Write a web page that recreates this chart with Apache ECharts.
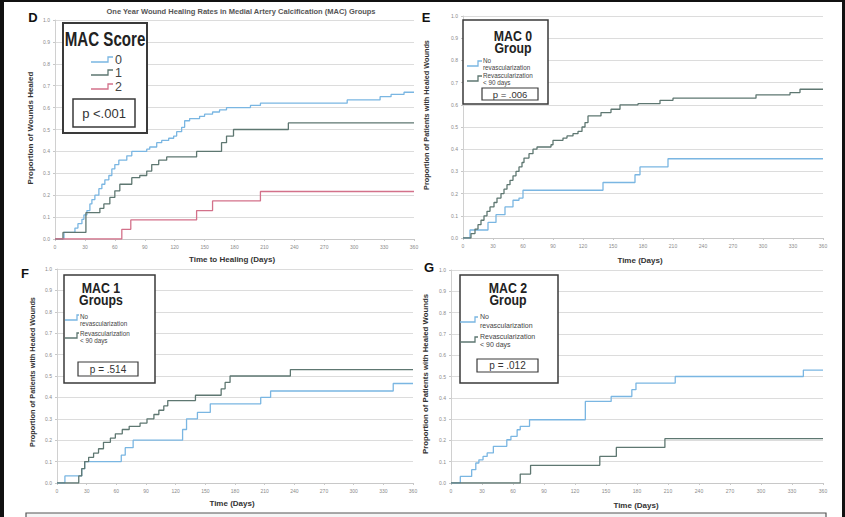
<!DOCTYPE html>
<html><head><meta charset="utf-8">
<script src="https://cdn.jsdelivr.net/npm/echarts@6/dist/echarts.min.js"></script>
<style>html,body{margin:0;padding:0;background:#fff}#c{width:845px;height:517px}</style>
</head><body><div id="c"></div>
<script>
// ---- Data: [day, cumulative proportion healed] step points ----
const dMac0 = [[0,0],[9,0.03],[20,0.05],[23,0.07],[27,0.09],[29,0.11],[32,0.13],[35,0.16],[37,0.18],[40,0.20],[44,0.23],[47,0.25],[50,0.27],[54,0.29],[57,0.32],[60,0.34],[64,0.36],[72,0.38],[77,0.40],[92,0.41],[95,0.42],[102,0.44],[107,0.45],[114,0.46],[119,0.47],[122,0.49],[127,0.51],[130,0.54],[135,0.55],[145,0.56],[150,0.57],[158,0.58],[165,0.59],[172,0.60],[196,0.61],[206,0.62],[293,0.635],[326,0.65],[337,0.66],[350,0.67],[360,0.67]];
const dMac1 = [[0,0],[8,0.03],[31,0.12],[45,0.14],[49,0.16],[55,0.19],[60,0.22],[65,0.25],[77,0.28],[85,0.29],[92,0.31],[97,0.34],[104,0.36],[112,0.375],[142,0.40],[167,0.44],[172,0.47],[179,0.50],[234,0.53],[360,0.53]];
const dMac2 = [[0,0],[67,0.044],[76,0.087],[142,0.13],[158,0.174],[206,0.217],[360,0.217]];

const eNoRevasc = [[0,0],[7,0.036],[25,0.07],[33,0.105],[42,0.14],[50,0.17],[56,0.18],[60,0.215],[140,0.25],[172,0.285],[177,0.32],[205,0.357],[360,0.357]];
const eRevasc = [[0,0],[8,0.02],[12,0.04],[15,0.06],[18,0.08],[21,0.10],[24,0.12],[27,0.14],[31,0.16],[34,0.18],[38,0.20],[41,0.22],[44,0.24],[47,0.26],[50,0.28],[53,0.30],[56,0.32],[59,0.34],[61,0.36],[66,0.38],[70,0.40],[74,0.41],[88,0.42],[90,0.44],[100,0.45],[104,0.46],[110,0.47],[115,0.48],[119,0.50],[122,0.52],[125,0.55],[138,0.565],[148,0.58],[157,0.60],[175,0.605],[197,0.62],[210,0.63],[293,0.645],[327,0.655],[337,0.67],[360,0.67]];

const fNoRevasc = [[0,0],[8,0.033],[25,0.067],[28,0.10],[65,0.13],[69,0.165],[77,0.20],[127,0.25],[131,0.30],[142,0.33],[155,0.37],[206,0.40],[216,0.43],[340,0.465],[360,0.465]];
const fRevasc = [[0,0],[22,0.033],[25,0.067],[28,0.10],[32,0.12],[37,0.14],[42,0.16],[47,0.19],[54,0.21],[59,0.23],[66,0.25],[73,0.265],[84,0.28],[91,0.30],[98,0.32],[103,0.34],[108,0.36],[112,0.385],[140,0.41],[166,0.44],[170,0.47],[175,0.50],[236,0.53],[360,0.53]];

const gNoRevasc = [[0,0],[9,0.031],[20,0.0625],[24,0.094],[27,0.109],[31,0.125],[35,0.141],[41,0.172],[54,0.203],[58,0.219],[64,0.25],[67,0.266],[76,0.297],[130,0.383],[155,0.406],[175,0.438],[179,0.469],[217,0.50],[341,0.53],[360,0.53]];
const gRevasc = [[0,0],[67,0.042],[77,0.083],[144,0.125],[160,0.167],[207,0.208],[360,0.208]];

const BLUE = '#7ab6e2', GREY = '#5e7771', RED = '#d3718a';
const FONT = 'Liberation Sans';

const grids = [
  {left:55, top:20, width:359, height:219},
  {left:463, top:16, width:360, height:222},
  {left:57, top:269, width:356, height:214},
  {left:451, top:270, width:372, height:213}
];

function xAx(i){return {type:'value', gridIndex:i, min:0, max:360, interval:30,
  axisLine:{show:true, lineStyle:{color:'#c8c8c8', width:1}},
  axisTick:{show:true, length:2, lineStyle:{color:'#c8c8c8'}},
  axisLabel:{fontSize:5, color:'#8a8a8a', margin:5, fontFamily:FONT},
  splitLine:{show:false}};}
function yAx(i){return {type:'value', gridIndex:i, min:0, max:1, interval:0.1,
  axisLine:{show:true, lineStyle:{color:'#d0d0d0', width:1}},
  axisTick:{show:true, length:2, lineStyle:{color:'#c8c8c8'}},
  axisLabel:{fontSize:5, color:'#8a8a8a', margin:5, fontFamily:FONT, formatter:v=>v.toFixed(1)},
  splitLine:{show:true, lineStyle:{color:'#dcdcdc', width:1}}};}
function ser(name, data, color, i){return {type:'line', name, data, step:'end', xAxisIndex:i, yAxisIndex:i,
  symbol:'none', lineStyle:{color, width:1.3}, itemStyle:{color}, silent:true, animation:false};}

function ctext(x,y,text,font,fill,extra){return Object.assign({type:'text', x, y, silent:true,
  style:{text, font, fill:fill||'#222', align:'center', verticalAlign:'middle'}}, extra||{});}
function stepIcon(x0,xm,x1,yl,yh,color){return {type:'polyline', silent:true,
  shape:{points:[[x0,yl],[xm,yl],[xm,yh],[x1,yh]]}, style:{stroke:color, lineWidth:1.3, fill:null}};}
function box(x,y,w,h,lw){return {type:'rect', silent:true, shape:{x,y,width:w,height:h},
  style:{fill:'#fff', stroke:'#3a3a3a', lineWidth:lw}};}
function leftTxt(x,y,text,size){return {type:'text', x, y, silent:true,
  style:{text, font:size+'px '+FONT, fill:'#444', align:'left', verticalAlign:'middle'}};}

const graphicEls = [
  // frame
  {type:'rect', silent:true, shape:{x:0,y:0,width:4,height:517}, style:{fill:'#111'}},
  {type:'rect', silent:true, shape:{x:0,y:0,width:845,height:2}, style:{fill:'#111'}},
  {type:'rect', silent:true, shape:{x:842,y:0,width:3,height:517}, style:{fill:'#111'}},
  {type:'rect', silent:true, shape:{x:26,y:513,width:800,height:10}, style:{fill:'#f5f5f5', stroke:'#555', lineWidth:1.2}},
  // panel letters
  ctext(33,17,'D','bold 13px '+FONT,'#111'),
  ctext(426,17,'E','bold 13px '+FONT,'#111'),
  ctext(25,273,'F','bold 13px '+FONT,'#111'),
  ctext(429,267,'G','bold 13px '+FONT,'#111'),
  // chart title
  ctext(241,11,'One Year Wound Healing Rates in Medial Artery Calcification (MAC) Groups','bold 7.5px '+FONT,'#555'),
  // axis titles
  ctext(232,259,'Time to Healing (Days)','bold 8px '+FONT,'#333'),
  ctext(640,260,'Time (Days)','bold 8px '+FONT,'#333'),
  ctext(232,503,'Time (Days)','bold 8px '+FONT,'#333'),
  ctext(636,505,'Time (Days)','bold 8px '+FONT,'#333'),
  ctext(30,128,'Proportion of Wounds Healed','bold 8px '+FONT,'#333',{rotation:Math.PI/2}),
  ctext(426,115,'Proportion of Patients with Healed Wounds','bold 7.3px '+FONT,'#333',{rotation:Math.PI/2}),
  ctext(32,372,'Proportion of Patients with Healed Wounds','bold 7.3px '+FONT,'#333',{rotation:Math.PI/2}),
  ctext(425,374,'Proportion of Patients with Healed Wounds','bold 7.8px '+FONT,'#333',{rotation:Math.PI/2}),

  // ---- D legend ----
  box(63,23,84,110,2),
  ctext(105,39,'MAC Score','bold 21px '+FONT,'#222',{scaleX:0.72}),
  stepIcon(91,108,113,62,57,BLUE), leftTxt(115,60,'0',12.5),
  stepIcon(91,108,113,75,70,GREY), leftTxt(115,73,'1',12.5),
  stepIcon(91,108,113,89,84,RED), leftTxt(115,87,'2',12.5),
  box(73,99,62,28,1.5),
  ctext(104,113,'p <.001','13px '+FONT,'#333'),

  // ---- E legend ----
  box(463,20,85,84,1.5),
  ctext(513,36,'MAC 0','bold 14px '+FONT,'#222',{scaleX:0.88}),
  ctext(513,48,'Group','bold 14px '+FONT,'#222',{scaleX:0.88}),
  stepIcon(467,478,482,66,61,BLUE), leftTxt(483,60,'No',6.3), leftTxt(483,67,'revascularization',6.3),
  stepIcon(467,478,482,81,76,GREY), leftTxt(483,75,'Revascularization',6.3), leftTxt(483,82,'< 90 days',6.3),
  box(482,88,56,12,1.2),
  ctext(510,94,'p = .006','9.5px '+FONT,'#333'),

  // ---- F legend ----
  box(64,275,91,108,1.5),
  ctext(101,288,'MAC 1','bold 14px '+FONT,'#222',{scaleX:0.88}),
  ctext(101,300,'Groups','bold 14px '+FONT,'#222',{scaleX:0.88}),
  stepIcon(65,77,79,320,315,BLUE), leftTxt(80,316,'No',6.3), leftTxt(80,323,'revascularization',6.3),
  stepIcon(65,77,79,338,333,GREY), leftTxt(80,333,'Revascularization',6.3), leftTxt(80,340,'< 90 days',6.3),
  box(78,362,60,14,1.2),
  ctext(108,369,'p = .514','10px '+FONT,'#333'),

  // ---- G legend ----
  box(460,275,98,108,1.5),
  ctext(508,288,'MAC 2','bold 14px '+FONT,'#222',{scaleX:0.88}),
  ctext(508,300,'Group','bold 14px '+FONT,'#222',{scaleX:0.88}),
  stepIcon(460,475,478,322,317,BLUE), leftTxt(480,316,'No',7), leftTxt(480,325,'revascularization',7),
  stepIcon(460,475,478,342,337,GREY), leftTxt(480,336,'Revascularization',7), leftTxt(480,344,'< 90 days',7),
  box(477,359,61,13,1.2),
  ctext(507.5,365.5,'p = .012','10px '+FONT,'#333')
].map(e => Object.assign(e, {z:100}));

const chart = echarts.init(document.getElementById('c'), null, {renderer:'svg', width:845, height:517});
chart.setOption({
  animation:false,
  backgroundColor:'#fff',
  textStyle:{fontFamily:FONT},
  grid: grids,
  xAxis: [xAx(0), xAx(1), xAx(2), xAx(3)],
  yAxis: [yAx(0), yAx(1), yAx(2), yAx(3)],
  series: [
    ser('0', dMac0, BLUE, 0), ser('1', dMac1, GREY, 0), ser('2', dMac2, RED, 0),
    ser('No revascularization', eNoRevasc, BLUE, 1), ser('Revascularization < 90 days', eRevasc, GREY, 1),
    ser('No revascularization', fNoRevasc, BLUE, 2), ser('Revascularization < 90 days', fRevasc, GREY, 2),
    ser('No revascularization', gNoRevasc, BLUE, 3), ser('Revascularization < 90 days', gRevasc, GREY, 3)
  ],
  graphic: {elements: graphicEls}
});
</script></body></html>
